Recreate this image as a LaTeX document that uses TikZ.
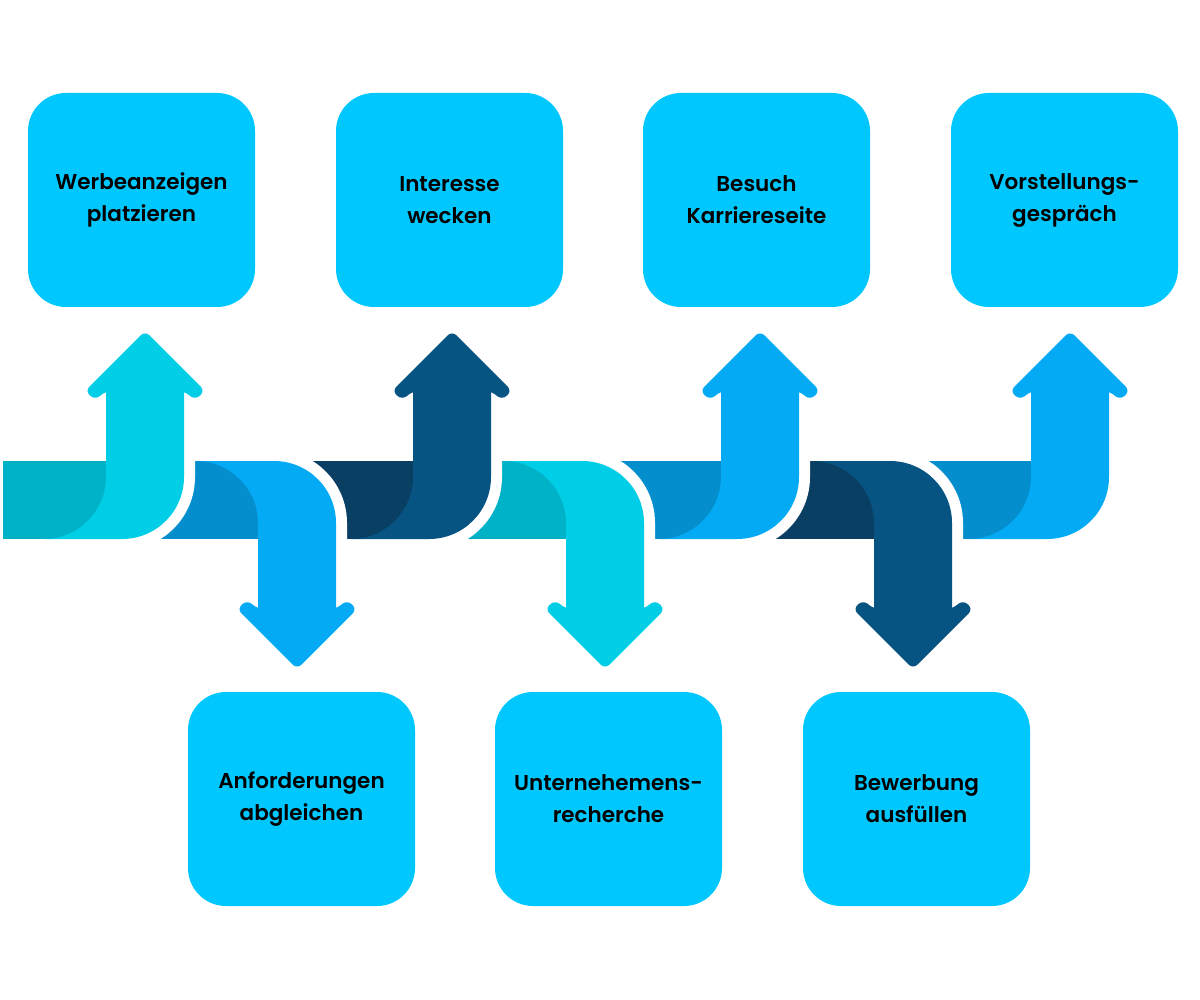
\documentclass[tikz,border=0pt]{standalone}
\usepackage{fontspec}
\setmainfont{Poppins}[BoldFont={Poppins SemiBold}]
\definecolor{boxc}{RGB}{0,200,255}
\definecolor{cyanL}{RGB}{0,205,230}
\definecolor{cyanD}{RGB}{0,178,200}
\definecolor{blueL}{RGB}{5,170,245}
\definecolor{blueD}{RGB}{4,142,206}
\definecolor{navyL}{RGB}{7,84,130}
\definecolor{navyD}{RGB}{8,63,99}
\tikzset{
  stepbox/.style={fill=boxc, rounded corners=38pt, minimum width=227pt, minimum height=214pt,
    align=center, inner sep=0pt, font=\fontsize{21.5}{32}\selectfont\bfseries},
  gap/.style={draw=white, line width=22pt, line join=round}
}
% #1 shaft centre, #2 band start, #3 light, #4 dark
\newcommand{\upseg}[4]{%
  \draw[gap] (#2,-461) rectangle ({#1-39},-539);
  \draw[gap] ({#1-39},-385) -- ({#1+39},-385) -- ({#1+39},-477)
     arc[start angle=0,end angle=-90,radius=62] -- ({#1-101},-539)
     arc[start angle=-90,end angle=0,radius=62] -- cycle;
  \fill[#4] (#2,-461) rectangle ({#1-39},-539);
  \fill[#3] ({#1-39},-385) -- ({#1+39},-385) -- ({#1+39},-477)
     arc[start angle=0,end angle=-90,radius=62] -- ({#1-101},-539)
     arc[start angle=-90,end angle=0,radius=62] -- cycle;
  \fill[#3, rounded corners=6pt] (#1,-331) -- ({#1-60},-391) -- ({#1-50},-400) -- ({#1-39},-391)
     -- ({#1+39},-391) -- ({#1+50},-400) -- ({#1+60},-391) -- cycle;
}
\newcommand{\downseg}[4]{%
  \draw[gap] (#2,-461) rectangle ({#1-39},-539);
  \draw[gap] ({#1-101},-461) -- ({#1-23},-461)
     arc[start angle=90,end angle=0,radius=62] -- ({#1+39},-615) -- ({#1-39},-615) -- ({#1-39},-523)
     arc[start angle=0,end angle=90,radius=62] -- cycle;
  \fill[#4] (#2,-461) rectangle ({#1-39},-539);
  \fill[#3] ({#1-101},-461) -- ({#1-23},-461)
     arc[start angle=90,end angle=0,radius=62] -- ({#1+39},-615) -- ({#1-39},-615) -- ({#1-39},-523)
     arc[start angle=0,end angle=90,radius=62] -- cycle;
  \fill[#3, rounded corners=6pt] (#1,-669) -- ({#1-60},-609) -- ({#1-50},-600) -- ({#1-39},-609)
     -- ({#1+39},-609) -- ({#1+50},-600) -- ({#1+60},-609) -- cycle;
}
\begin{document}
\begin{tikzpicture}[x=1pt,y=1pt]
\useasboundingbox (0,0) rectangle (1200,-1000);
% boxes
\node[stepbox] (b1) at (141.5,-200) {Werbeanzeigen\\platzieren};
\node[stepbox] (b3) at (449.5,-200) {Interesse\\wecken};
\node[stepbox] (b5) at (756.5,-200) {Besuch\\Karriereseite};
\node[stepbox] (b7) at (1064.5,-200) {Vorstellungs-\\gespräch};
\node[stepbox] (b2) at (301.5,-799) {Anforderungen\\abgleichen};
\node[stepbox] (b4) at (608.5,-799) {Unternehemens-\\recherche};
\node[stepbox] (b6) at (916.5,-799) {Bewerbung\\ausfüllen};
% arrow band, drawn from last to first
\upseg{1070}{913}{blueL}{blueD}
\downseg{913}{760}{navyL}{navyD}
\upseg{760}{605}{blueL}{blueD}
\downseg{605}{452}{cyanL}{cyanD}
\upseg{452}{297}{navyL}{navyD}
\downseg{297}{145}{blueL}{blueD}
\upseg{145}{3}{cyanL}{cyanD}
\end{tikzpicture}
\end{document}
